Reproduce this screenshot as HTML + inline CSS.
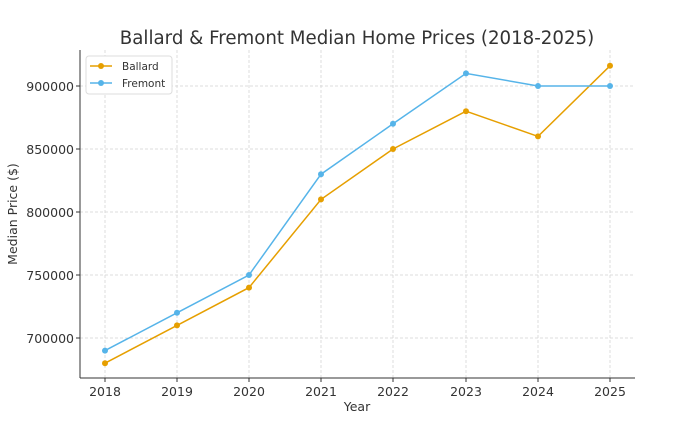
<!DOCTYPE html>
<html><head><meta charset="utf-8"><style>body{margin:0;background:#fff}svg{display:block}</style></head><body>
<svg width="673" height="426" xmlns="http://www.w3.org/2000/svg" font-family="DejaVu Sans, Liberation Sans, sans-serif">
<rect width="673" height="426" fill="#fff"/>
<text x="357" y="44" text-anchor="middle" font-size="18.2" fill="#333">Ballard &amp; Fremont Median Home Prices (2018-2025)</text>
<g stroke="#d4d4d4" stroke-width="0.8" stroke-dasharray="3,2">
<line x1="105" y1="50" x2="105" y2="378"/><line x1="177" y1="50" x2="177" y2="378"/><line x1="249" y1="50" x2="249" y2="378"/><line x1="321" y1="50" x2="321" y2="378"/><line x1="393" y1="50" x2="393" y2="378"/><line x1="466" y1="50" x2="466" y2="378"/><line x1="538" y1="50" x2="538" y2="378"/><line x1="610" y1="50" x2="610" y2="378"/>
<line x1="80" y1="86" x2="635" y2="86"/><line x1="80" y1="149" x2="635" y2="149"/><line x1="80" y1="212" x2="635" y2="212"/><line x1="80" y1="275" x2="635" y2="275"/><line x1="80" y1="338" x2="635" y2="338"/>
</g>
<g stroke="#333" stroke-width="1"><line x1="80" y1="50" x2="80" y2="378"/><line x1="80" y1="378" x2="635" y2="378"/>
<line x1="105" y1="378" x2="105" y2="382"/><line x1="177" y1="378" x2="177" y2="382"/><line x1="249" y1="378" x2="249" y2="382"/><line x1="321" y1="378" x2="321" y2="382"/><line x1="393" y1="378" x2="393" y2="382"/><line x1="466" y1="378" x2="466" y2="382"/><line x1="538" y1="378" x2="538" y2="382"/><line x1="610" y1="378" x2="610" y2="382"/>
<line x1="76" y1="86" x2="80" y2="86"/><line x1="76" y1="149" x2="80" y2="149"/><line x1="76" y1="212" x2="80" y2="212"/><line x1="76" y1="275" x2="80" y2="275"/><line x1="76" y1="338" x2="80" y2="338"/></g>
<g font-size="12.5" fill="#333" text-anchor="middle">
<text x="105" y="396">2018</text><text x="177" y="396">2019</text><text x="249" y="396">2020</text><text x="321" y="396">2021</text><text x="393" y="396">2022</text><text x="466" y="396">2023</text><text x="538" y="396">2024</text><text x="610" y="396">2025</text>
<text x="357" y="411">Year</text></g>
<g font-size="12.5" fill="#333" text-anchor="end">
<text x="74" y="91">900000</text><text x="74" y="154">850000</text><text x="74" y="217">800000</text><text x="74" y="280">750000</text><text x="74" y="343">700000</text></g>
<text transform="translate(17,214) rotate(-90)" font-size="12.5" fill="#333" text-anchor="middle">Median Price ($)</text>
<polyline fill="none" stroke="#E69F00" stroke-width="1.5" points="105,363.2 177,325.4 249,287.6 321,199.4 393,149 466,111.2 538,136.4 610,65.8"/>
<g fill="#E69F00"><circle cx="105" cy="363.2" r="3"/><circle cx="177" cy="325.4" r="3"/><circle cx="249" cy="287.6" r="3"/><circle cx="321" cy="199.4" r="3"/><circle cx="393" cy="149" r="3"/><circle cx="466" cy="111.2" r="3"/><circle cx="538" cy="136.4" r="3"/><circle cx="610" cy="65.8" r="3"/></g>
<polyline fill="none" stroke="#56B4E9" stroke-width="1.5" points="105,350.6 177,312.8 249,275 321,174.2 393,123.8 466,73.4 538,86 610,86"/>
<g fill="#56B4E9"><circle cx="105" cy="350.6" r="3"/><circle cx="177" cy="312.8" r="3"/><circle cx="249" cy="275" r="3"/><circle cx="321" cy="174.2" r="3"/><circle cx="393" cy="123.8" r="3"/><circle cx="466" cy="73.4" r="3"/><circle cx="538" cy="86" r="3"/><circle cx="610" cy="86" r="3"/></g>
<rect x="86" y="56" width="86" height="38" rx="3" fill="#fff" stroke="#ddd"/>
<line x1="90" y1="66" x2="112" y2="66" stroke="#E69F00" stroke-width="1.5"/><circle cx="101" cy="66" r="3" fill="#E69F00"/>
<line x1="90" y1="83" x2="112" y2="83" stroke="#56B4E9" stroke-width="1.5"/><circle cx="101" cy="83" r="3" fill="#56B4E9"/>
<text x="122" y="70" font-size="10.5" fill="#333">Ballard</text><text x="122" y="87" font-size="10.5" fill="#333">Fremont</text>
</svg>
</body></html>
